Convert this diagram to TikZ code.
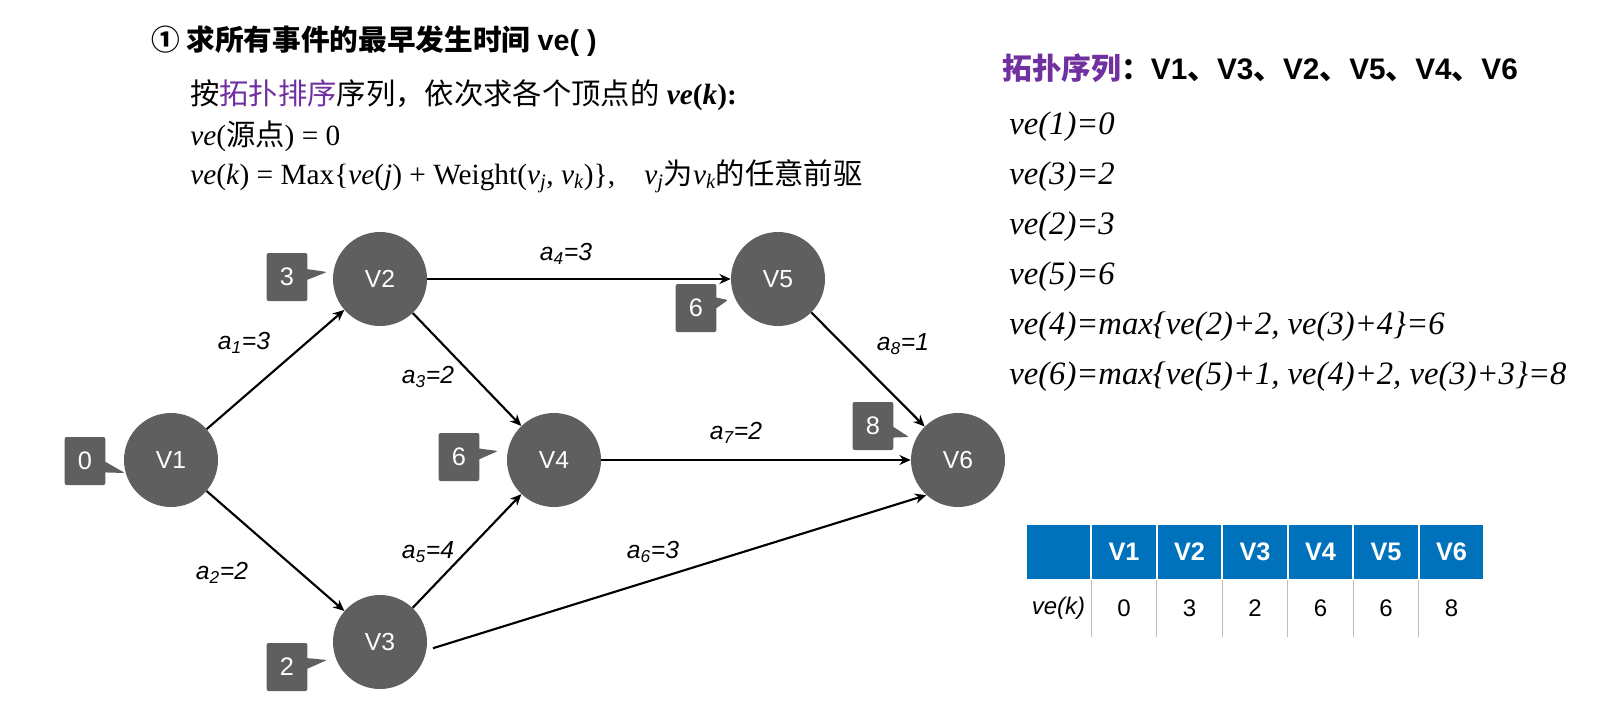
\documentclass[tikz,border=0pt]{standalone}
\usepackage{fontspec}
\setmainfont{Liberation Serif}
\setsansfont{Liberation Sans}
\newfontfamily\cjk{Noto Sans CJK SC}
\usepackage{xcolor}
\usetikzlibrary{arrows.meta,shapes.callouts}

\definecolor{nodegray}{RGB}{95,95,95}
\definecolor{topopurple}{RGB}{112,48,160}
\definecolor{headblue}{RGB}{0,114,188}
\newcommand{\dun}{{\cjk\bfseries 、}}

\begin{document}
\begin{tikzpicture}[
    x=0.75pt, y=-0.75pt,
    vertex/.style={circle, fill=nodegray, text=white, minimum size=70.5pt, inner sep=0pt, font=\sffamily\fontsize{18.5}{18}\selectfont},
    tag/.style={rectangle callout, fill=nodegray, text=white, minimum width=30.5pt, minimum height=36pt, inner sep=0pt, rounded corners=1.5pt, callout pointer width=8pt, font=\sffamily\fontsize{19}{18}\selectfont},
    wlabel/.style={inner sep=0pt, font=\sffamily\itshape\fontsize{18.5}{18}\selectfont},
    textline/.style={anchor=west, inner sep=0pt, font=\fontsize{22}{24}\selectfont},
    veline/.style={anchor=west, inner sep=0pt, font=\itshape\fontsize{24.5}{26}\selectfont},
    hcell/.style={rectangle, fill=headblue, draw=white, line width=1.5pt, minimum width=49.1pt, minimum height=42pt, inner sep=0pt, text=white, font=\sffamily\bfseries\fontsize{19}{19}\selectfont},
    rcell/.style={rectangle, minimum width=49.1pt, minimum height=42.75pt, inner sep=0pt, font=\sffamily\fontsize{18}{18}\selectfont},
    tsep/.style={draw=black!25, line width=0.75pt},
    arrow/.style={-{Stealth[length=8.5pt,width=7.5pt]}, line width=1.6pt}
]
\useasboundingbox (0,0) rectangle (1601,706);

% headings
\node[anchor=west, inner sep=0pt, font=\fontsize{21.5}{24}\selectfont] (title) at (151,41)
  {{\cjk\bfseries ① 求所有事件的最早发生时间} {\sffamily\bfseries ve( )}};
\node[textline] (rule1) at (190,95)
  {{\cjk 按}{\cjk\color{topopurple}拓扑排序}{\cjk 序列，依次求各个顶点的} \textbf{\textit{ve}(\textit{k}):}};
\node[textline] (rule2) at (190,136) {\textit{ve}({\cjk 源点}) = 0};
\node[textline] (rule3) at (190,176)
  {\textit{ve}(\textit{k}) = Max\{\textit{ve}(\textit{j}) + Weight(\textit{v\textsubscript{j}}, \textit{v\textsubscript{k}})\},\quad \textit{v\textsubscript{j}}{\cjk 为}\textit{v\textsubscript{k}}{\cjk 的任意前驱}};

% graph
\node[vertex] (v1) at (171,460) {V1};
\node[vertex] (v2) at (380,279) {V2};
\node[vertex] (v3) at (380,642) {V3};
\node[vertex] (v4) at (554,460) {V4};
\node[vertex] (v5) at (778,279) {V5};
\node[vertex] (v6) at (958,460) {V6};

\node[tag, callout absolute pointer={(125,473)}] (t1) at (85,461) {0};
\node[tag, callout absolute pointer={(327,272)}] (t2) at (287,277) {3};
\node[tag, callout absolute pointer={(327,660)}] (t3) at (287,667) {2};
\node[tag, callout absolute pointer={(498,451)}] (t4) at (459,457) {6};
\node[tag, callout absolute pointer={(728,300)}] (t5) at (696,308) {6};
\node[tag, callout absolute pointer={(909,437)}] (t6) at (873,426) {8};

\draw[arrow] (v1) -- (v2);
\draw[arrow] (v1) -- (v3);
\draw[arrow] (v2) -- (v4);
\draw[arrow] (v2) -- (v5);
\draw[arrow] (v3) -- (v4);
\draw[arrow, shorten <=5pt] (v3.-10) -- (v6.228);
\draw[arrow] (v4) -- (v6);
\draw[arrow] (v5) -- (v6);

\node[wlabel] (a1) at (244,343) {a\textsubscript{1}=3};
\node[wlabel] (a2) at (222,573) {a\textsubscript{2}=2};
\node[wlabel] (a3) at (428,377) {a\textsubscript{3}=2};
\node[wlabel] (a4) at (566,254) {a\textsubscript{4}=3};
\node[wlabel] (a5) at (428,552) {a\textsubscript{5}=4};
\node[wlabel] (a6) at (653,552) {a\textsubscript{6}=3};
\node[wlabel] (a7) at (736,433) {a\textsubscript{7}=2};
\node[wlabel] (a8) at (903,344) {a\textsubscript{8}=1};

% topological order and results
\node[anchor=west, inner sep=0pt, font=\fontsize{22.3}{24}\selectfont] (order) at (1002,68)
  {{\cjk\bfseries\color{topopurple}拓扑序列}{\cjk\bfseries ：}\sffamily\bfseries V1\dun V3\dun V2\dun V5\dun V4\dun V6};
\foreach \txt [count=\i] in {{ve(1)=0},{ve(3)=2},{ve(2)=3},{ve(5)=6},
    {ve(4)=max\{ve(2)+2, ve(3)+4\}=6},{ve(6)=max\{ve(5)+1, ve(4)+2, ve(3)+3\}=8}}
  \node[veline] (ve\i) at (1009,77+50*\i) {\txt};

% table
\node[hcell] (h0) at (1058.5,552) {};
\node[rcell] (r0) at (1058.5,608.5) {\itshape ve(k)};
\foreach \v [count=\i] in {0,3,2,6,6,8} {
  \node[hcell] (h\i) at (1058.5+65.5*\i,552) {V\i};
  \node[rcell] (r\i) at (1058.5+65.5*\i,608.5) {\v};
  \draw[tsep] (r\i.north west) -- (r\i.south west);
}
\end{tikzpicture}
\end{document}
